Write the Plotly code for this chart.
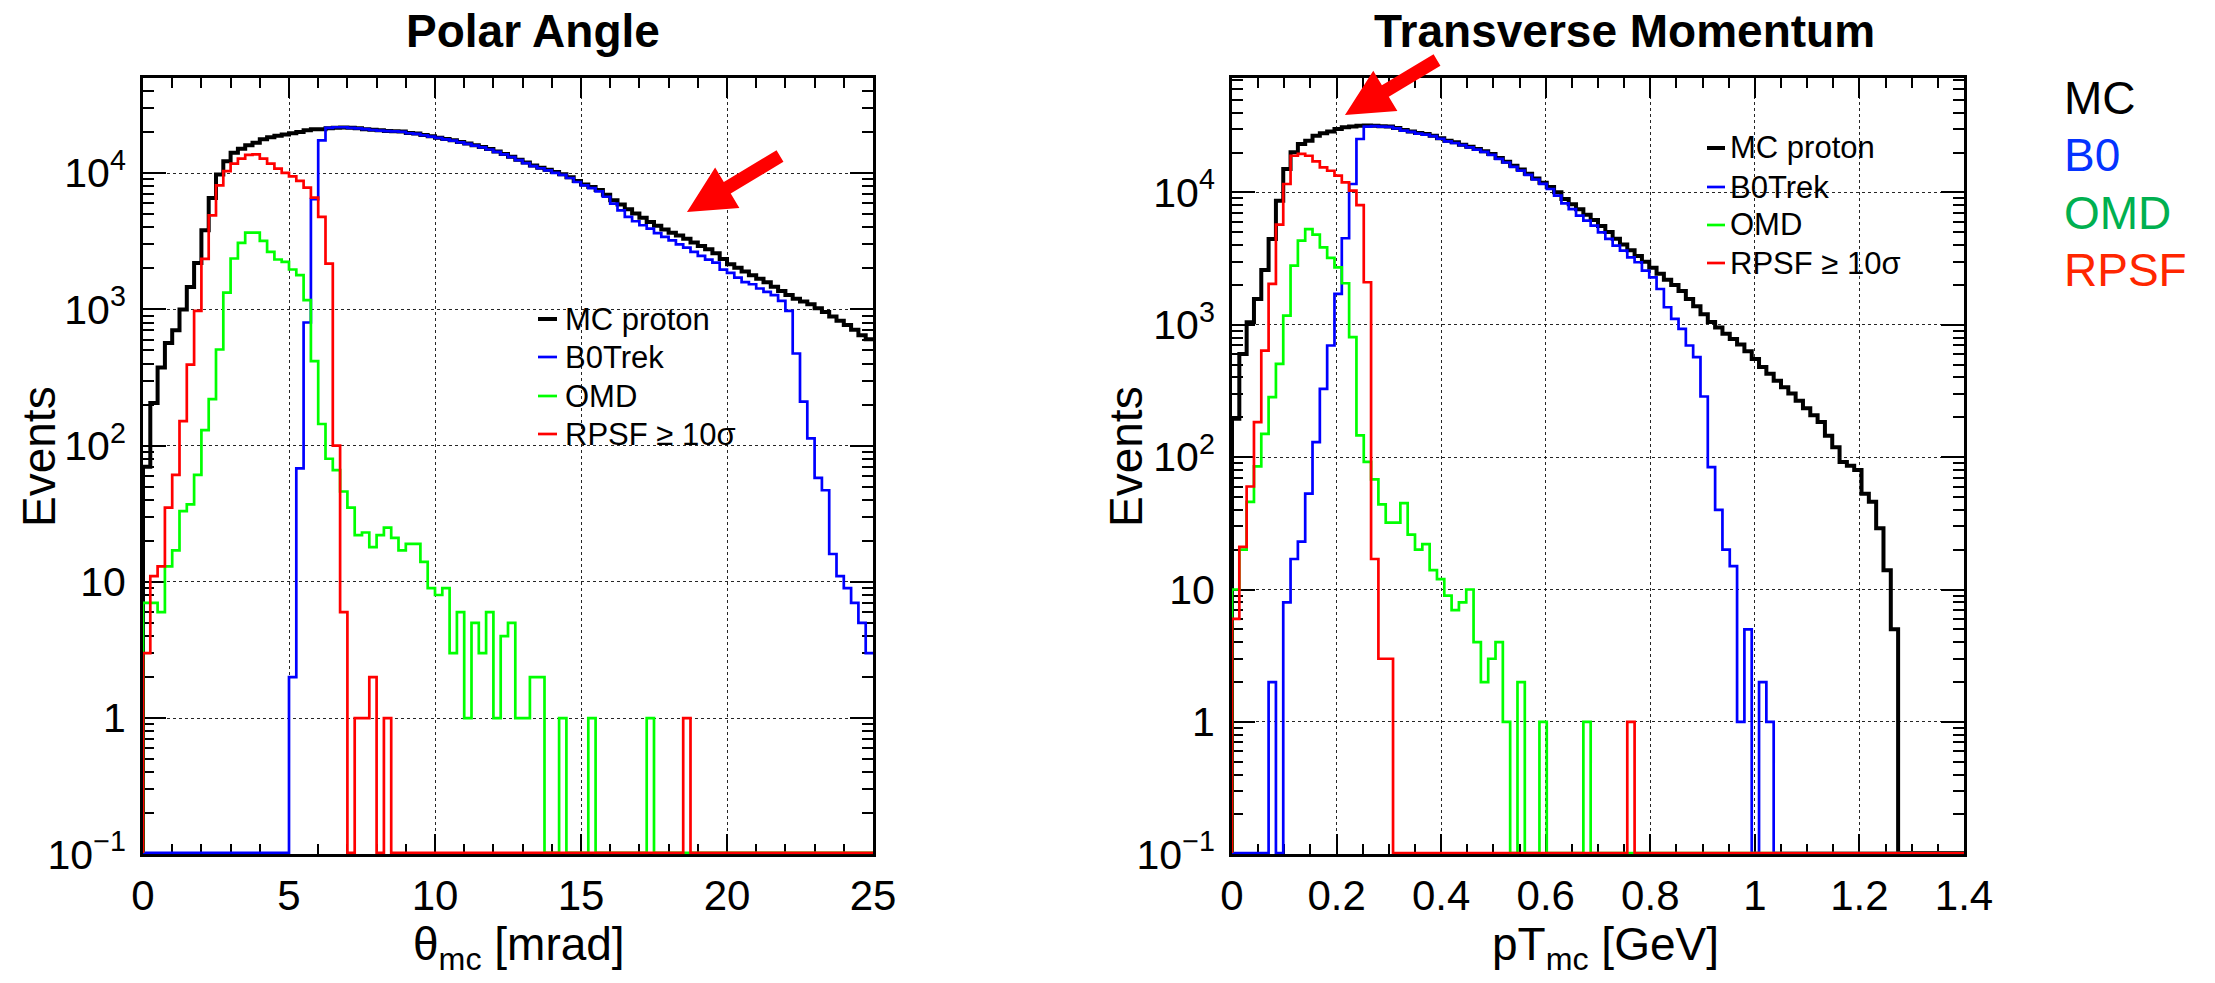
import math
import numpy as np
import plotly.graph_objects as go

W, H = 2215, 983
FONT = "Liberation Sans, Arial, Helvetica, sans-serif"

# ---------------- data ----------------
theta_range = (0.0, 25.0)
theta_nbins = 100
pt_range = (0.0, 1.4)
pt_nbins = 100

theta_mc = [70, 205, 374, 567, 703, 995, 1460, 2190, 3800, 6560,
            9750, 12200, 14100, 15100, 16000, 16700, 17700, 18300, 18800, 19200,
            19600, 20000, 20600, 21000, 21000, 21300, 21500, 21600, 21500, 21300,
            21000, 20800, 20600, 20400, 20300, 20200, 19700, 19500, 19050, 18600,
            18200, 17800, 17400, 16900, 16500, 16000, 15550, 15000, 14400, 13800,
            13200, 12530, 11940, 11350, 10960, 10570, 10190, 9820, 9330, 8750,
            8260, 7890, 7500, 6920, 6310, 5890, 5430, 5060, 4700, 4365,
            4100, 3855, 3655, 3475, 3300, 3090, 2920, 2754, 2582, 2344,
            2138, 2018, 1892, 1778, 1675, 1578, 1462, 1365, 1274, 1197,
            1143, 1089, 1019, 955, 887, 824, 766, 708, 646, 603]

theta_b0 = [0, 0, 0, 0, 0, 0, 0, 0, 0, 0,
            0, 0, 0, 0, 0, 0, 0, 0, 0, 0,
            2, 68, 800, 6430, 17400, 21500, 21700, 21700, 21500, 21300,
            21000, 20700, 20500, 20300, 20200, 20100, 19600, 19400, 18950, 18500,
            18100, 17700, 17300, 16800, 16400, 15900, 15450, 14900, 14300, 13700,
            13100, 12450, 11850, 11250, 10850, 10450, 10050, 9700, 9200, 8600,
            8130, 7750, 7350, 6700, 5960, 5330, 4770, 4430, 4140, 3910,
            3630, 3400, 3210, 3000, 2838, 2637, 2466, 2317, 2203, 1958,
            1850, 1710, 1585, 1527, 1422, 1343, 1270, 1153, 975, 474,
            210, 113, 58, 47, 16, 11, 9, 7, 5, 3]

theta_omd = [7, 7, 6, 13, 17, 33, 37, 61, 130, 219,
             507, 1327, 2360, 3070, 3650, 3650, 3180, 2640, 2320, 2230,
             1960, 1780, 1170, 416, 144, 80, 66, 46, 35, 22,
             23, 18, 22, 25, 21, 17, 19, 19, 14, 9,
             8, 9, 3, 6, 1, 5, 3, 6, 1, 4,
             5, 1, 1, 2, 2, 0, 0, 1, 0, 0,
             0, 1, 0, 0, 0, 0, 0, 0, 0, 1,
             0, 0, 0, 0, 0, 0, 0, 0, 0, 0,
             0, 0, 0, 0, 0, 0, 0, 0, 0, 0,
             0, 0, 0, 0, 0, 0, 0, 0, 0, 0]

theta_rpsf = [3, 11, 13, 35, 61, 151, 393, 973, 2344, 4900,
              8130, 10350, 11720, 12750, 13600, 13700, 12750, 11720, 10790, 10020,
              9460, 8750, 7820, 6600, 4770, 2168, 100, 6, 0, 1,
              1, 2, 0, 1, 0, 0, 0, 0, 0, 0,
              0, 0, 0, 0, 0, 0, 0, 0, 0, 0,
              0, 0, 0, 0, 0, 0, 0, 0, 0, 0,
              0, 0, 0, 0, 0, 0, 0, 0, 0, 0,
              0, 0, 0, 0, 1, 0, 0, 0, 0, 0,
              0, 0, 0, 0, 0, 0, 0, 0, 0, 0,
              0, 0, 0, 0, 0, 0, 0, 0, 0, 0]

pt_mc = [195, 600, 1045, 1567, 2594, 4446, 8650, 15000, 20050, 23170,
         24550, 26800, 27900, 28860, 30060, 30960, 31480, 31860, 32000, 31860,
         31600, 31480, 30600, 29540, 28840, 28050, 27540, 26800, 25600, 24550,
         23880, 22910, 22130, 21230, 20420, 19450, 18200, 17060, 15850, 14860,
         13800, 12740, 11830, 10960, 10000, 8910, 8130, 7450, 6760, 6170,
         5560, 5010, 4470, 4030, 3650, 3300, 2985, 2690, 2430, 2190,
         1995, 1795, 1567, 1380, 1202, 1047, 955, 855, 780, 708,
         631, 550, 479, 427, 378, 337, 302, 267, 234, 207,
         184, 145, 119, 92, 86, 80, 53, 46, 29, 14,
         5, 0, 0, 0, 0, 0, 0, 0, 0, 0]

pt_b0 = [0, 0, 0, 0, 0, 2, 0, 8, 17, 23,
         53, 130, 328, 697, 1710, 4500, 11560, 25290, 31330, 31600,
         31400, 31200, 30400, 29300, 28600, 27800, 27300, 26600, 25400, 24300,
         23600, 22700, 21900, 21000, 20200, 19200, 17900, 16800, 15600, 14600,
         13550, 12500, 11600, 10600, 9440, 8260, 7480, 6670, 6110, 5600,
         4990, 4447, 3955, 3630, 3230, 2965, 2564, 2280, 1862, 1355,
         1106, 931, 697, 569, 287, 84, 40, 20, 15, 1,
         5, 0, 2, 1, 0, 0, 0, 0, 0, 0,
         0, 0, 0, 0, 0, 0, 0, 0, 0, 0,
         0, 0, 0, 0, 0, 0, 0, 0, 0, 0]

pt_omd = [10, 20, 46, 85, 150, 284, 506, 1172, 2800, 4318,
          5280, 4796, 3847, 3194, 2716, 2057, 806, 146, 92, 68,
          44, 32, 32, 45, 26, 20, 22, 14, 12, 9,
          7, 8, 10, 4, 2, 3, 4, 1, 0, 2,
          0, 0, 1, 0, 0, 0, 0, 0, 1, 0,
          0, 0, 0, 0, 0, 0, 0, 0, 0, 0,
          0, 0, 0, 0, 0, 0, 0, 0, 0, 0,
          0, 0, 0, 0, 0, 0, 0, 0, 0, 0,
          0, 0, 0, 0, 0, 0, 0, 0, 0, 0,
          0, 0, 0, 0, 0, 0, 0, 0, 0, 0]

pt_rpsf = [6, 21, 60, 184, 638, 2032, 5700, 11560, 18900, 19500,
           18900, 17130, 15450, 14560, 13360, 11900, 10300, 8000, 2094, 17,
           3, 3, 0, 0, 0, 0, 0, 0, 0, 0,
           0, 0, 0, 0, 0, 0, 0, 0, 0, 0,
           0, 0, 0, 0, 0, 0, 0, 0, 0, 0,
           0, 0, 0, 0, 1, 0, 0, 0, 0, 0,
           0, 0, 0, 0, 0, 0, 0, 0, 0, 0,
           0, 0, 0, 0, 0, 0, 0, 0, 0, 0,
           0, 0, 0, 0, 0, 0, 0, 0, 0, 0,
           0, 0, 0, 0, 0, 0, 0, 0, 0, 0]

series_names = ["MC proton", "B0Trek", "OMD", "RPSF \u2265 10\u03c3"]
series_colors = ["#000000", "#0000ff", "#00ff00", "#ff0000"]
series_widths = [4.0, 2.7, 2.7, 2.7]

theta_xtickvals = [0, 5, 10, 15, 20, 25]
theta_xticktext = ["0", "5", "10", "15", "20", "25"]
pt_xtickvals = [0, 0.2, 0.4, 0.6, 0.8, 1.0, 1.2, 1.4]
pt_xticktext = ["0", "0.2", "0.4", "0.6", "0.8", "1", "1.2", "1.4"]
y_tickvals = [0.1, 1, 10, 100, 1000, 10000]
y_ticktext = ["10<sup>\u22121</sup>", "1", "10", "10<sup>2</sup>", "10<sup>3</sup>", "10<sup>4</sup>"]

panel_titles = ["Polar Angle", "Transverse Momentum"]
x_titles = ["\u03b8<sub>mc</sub> [mrad]", "pT<sub>mc</sub> [GeV]"]
y_title = "Events"

side_labels = ["MC", "B0", "OMD", "RPSF"]
side_colors = ["#000000", "#0433ff", "#00b050", "#ff2600"]

# ---------------- layout geometry (pixels) ----------------
L1, R1 = 143, 873
L2, R2 = 1232, 1964
TOP, BOT = 77.7, 854.3
YLOG_MIN = -1.0
YLOG_MAX = [4.70, 4.866]


def px(x):
    return x / W


def py(y):
    return 1 - y / H


fig = go.Figure()

floor_val = 10 ** (YLOG_MIN + 0.010)  # zero-content bins drawn on the x axis


def add_hist(values, lo, hi, nb, xa, ya, color, width, name):
    edges = np.linspace(lo, hi, nb + 1)
    v = np.array(values, dtype=float)
    v = np.where(v > 0, v, floor_val)
    xs = np.concatenate([[edges[0]], edges])
    ys = np.concatenate([[floor_val], v, [v[-1]]])
    fig.add_trace(go.Scatter(x=xs, y=ys, mode="lines", line=dict(color=color, width=width, shape="hv"),
                             name=name, showlegend=False, xaxis=xa, yaxis=ya, hoverinfo="skip"))


theta_series = [theta_mc, theta_b0, theta_omd, theta_rpsf]
pt_series = [pt_mc, pt_b0, pt_omd, pt_rpsf]
for s, c, w, n in zip(theta_series, series_colors, series_widths, series_names):
    add_hist(s, theta_range[0], theta_range[1], theta_nbins, "x", "y", c, w, n)
for s, c, w, n in zip(pt_series, series_colors, series_widths, series_names):
    add_hist(s, pt_range[0], pt_range[1], pt_nbins, "x2", "y2", c, w, n)

log_minor = [k * 10.0 ** e for e in range(-1, 5) for k in range(2, 10)]

common = dict(showline=True, linewidth=2.8, linecolor="black", mirror="ticks",
              ticks="inside", tickwidth=2.4, tickcolor="black",
              showgrid=True, gridcolor="rgba(0,0,0,0.85)", griddash="dot", gridwidth=1.3,
              zeroline=False, layer="below traces",
              tickfont=dict(family=FONT, size=42, color="black"))


def xaxis(dom, rng, tv, tt, minor_dtick):
    d = dict(common)
    d.update(domain=dom, range=rng, tickmode="array", tickvals=tv, ticktext=tt, ticklen=20,
             ticklabelstandoff=2,
             minor=dict(ticks="inside", ticklen=10, tickwidth=2.4, tickcolor="black",
                        dtick=minor_dtick, tick0=0, showgrid=False))
    return d


def yaxis(rng_top, anchor):
    d = dict(common)
    d.update(type="log", domain=[py(BOT), py(TOP)], range=[YLOG_MIN, rng_top],
             tickmode="array", tickvals=y_tickvals, ticktext=y_ticktext, ticklen=23,
             ticklabelstandoff=6, anchor=anchor,
             minor=dict(ticks="inside", ticklen=11, tickwidth=2.4, tickcolor="black",
                        tickmode="array", tickvals=log_minor, showgrid=False))
    d["tickfont"] = dict(family=FONT, size=41, color="black")
    return d


fig.update_layout(
    width=W, height=H,
    margin=dict(l=0, r=0, t=0, b=0, autoexpand=False),
    paper_bgcolor="white", plot_bgcolor="white",
    showlegend=False,
    xaxis=xaxis([px(L1), px(R1)], [theta_range[0], theta_range[1]], theta_xtickvals, theta_xticktext, 1),
    xaxis2=xaxis([px(L2), px(R2)], [pt_range[0], pt_range[1]], pt_xtickvals, pt_xticktext, 0.05),
    yaxis=yaxis(YLOG_MAX[0], "x"),
    yaxis2=yaxis(YLOG_MAX[1], "x2"),
)
fig.layout.xaxis2.anchor = "y2"
fig.layout.xaxis.anchor = "y"

ann = []
shapes = []

# panel titles
for t, cx in zip(panel_titles, [533, 1624]):
    ann.append(dict(text="<b>%s</b>" % t, x=px(cx), y=py(31), xref="paper", yref="paper",
                    xanchor="center", yanchor="middle", showarrow=False,
                    font=dict(family=FONT, size=46, color="black")))
# axis titles
for t, cx in zip(x_titles, [519, 1605]):
    ann.append(dict(text=t, x=px(cx), y=py(947), xref="paper", yref="paper",
                    xanchor="center", yanchor="middle", showarrow=False,
                    font=dict(family=FONT, size=46, color="black")))
for cx in [39, 1126]:
    ann.append(dict(text=y_title, x=px(cx), y=py(457), xref="paper", yref="paper",
                    xanchor="center", yanchor="middle", showarrow=False, textangle=-90,
                    font=dict(family=FONT, size=46, color="black")))

# legends (box, sample lines, text)
legend_specs = [
    dict(box=(535, 303, 638, 455), line_x=(538, 557), text_x=563, rows=[319, 357, 396, 434]),
    dict(box=(1705, 133, 1830, 282), line_x=(1707, 1725), text_x=1728, rows=[148, 187, 225, 263]),
]
for spec in legend_specs:
    x0, y0, x1, y1 = spec["box"]
    shapes.append(dict(type="rect", xref="paper", yref="paper", x0=px(x0), x1=px(x1), y0=py(y1), y1=py(y0),
                       fillcolor="white", line=dict(width=0), layer="between"))
    for name, col, wid, ry in zip(series_names, series_colors, series_widths, spec["rows"]):
        shapes.append(dict(type="line", xref="paper", yref="paper",
                           x0=px(spec["line_x"][0]), x1=px(spec["line_x"][1]), y0=py(ry), y1=py(ry),
                           line=dict(color=col, width=wid)))
        ann.append(dict(text=name, x=px(spec["text_x"]), y=py(ry), xref="paper", yref="paper",
                        xanchor="left", yanchor="middle", showarrow=False,
                        font=dict(family=FONT, size=31, color="black")))

# side labels
for lab, col, ry in zip(side_labels, side_colors, [98, 155, 213, 270]):
    ann.append(dict(text=lab, x=px(2062), y=py(ry), xref="paper", yref="paper",
                    xanchor="left", yanchor="middle", showarrow=False,
                    font=dict(family=FONT, size=46, color=col)))


# red arrows
def arrow_path(tip, tail, head_len=47, head_half=23.5, shaft_half=6.7):
    tx, ty = tip
    bx, by = tail
    dx, dy = bx - tx, by - ty
    Ln = math.hypot(dx, dy)
    ux, uy = dx / Ln, dy / Ln
    nx, ny = -uy, ux
    hx, hy = tx + head_len * ux, ty + head_len * uy
    pts = [(tx, ty),
           (hx + head_half * nx, hy + head_half * ny),
           (hx + shaft_half * nx, hy + shaft_half * ny),
           (bx + shaft_half * nx, by + shaft_half * ny),
           (bx - shaft_half * nx, by - shaft_half * ny),
           (hx - shaft_half * nx, hy - shaft_half * ny),
           (hx - head_half * nx, hy - head_half * ny)]
    return "M " + " L ".join("%.5f,%.5f" % (px(x), py(y)) for x, y in pts) + " Z"


for tip, tail in [((687, 212), (780, 156)), ((1345, 115), (1437, 60))]:
    shapes.append(dict(type="path", xref="paper", yref="paper", path=arrow_path(tip, tail),
                       fillcolor="#ff0000", line=dict(width=0)))

fig.update_layout(annotations=ann, shapes=shapes)
fig.write_html("out.html",
               config={"displayModeBar": False},
               post_script="document.body.style.margin='0';document.body.style.padding='0';")
